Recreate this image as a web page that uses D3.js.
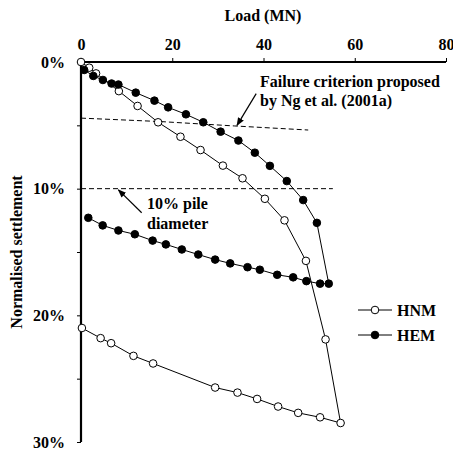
<!DOCTYPE html>
<html>
<head>
<meta charset="utf-8">
<script src="https://cdn.jsdelivr.net/npm/d3@7"></script>
<style>
  html, body { margin: 0; padding: 0; background: #fff; }
</style>
</head>
<body>
<svg id="chart" width="453" height="450"></svg>
<script>
// Load (MN) and normalised settlement (%) for each pile test
const hnmLoad = [0, 1.8, 3.3, 8.3, 12.4, 16.9, 21.8, 26.2, 31.1, 35.4, 40.3, 44.6, 49.3, 53.6, 56.9,
                 52.4, 47.6, 43.2, 38.6, 34.3, 29.4, 15.8, 11.5, 6.6, 4.3, 0.2];
const hnmSettle = [0, 0.45, 0.9, 2.3, 3.47, 4.76, 5.9, 6.95, 8.18, 9.18, 10.8, 12.5, 15.7, 21.9, 28.5,
                   28.05, 27.7, 27.2, 26.6, 26.1, 25.7, 23.8, 23.2, 22.2, 21.8, 21.0];
const hemLoad = [0.7, 2.7, 4.8, 6.7, 8.2, 12.0, 16.1, 19.1, 23.0, 26.8, 30.6, 34.5, 38.1, 41.4, 45.1, 48.7, 51.7, 54.3,
                 52.4, 49.4, 46.5, 43.0, 39.2, 36.5, 32.7, 29.4, 25.7, 22.1, 18.6, 15.7, 11.8, 8.2, 4.75, 1.6];
const hemSettle = [0.63, 1.1, 1.42, 1.7, 1.78, 2.42, 3.05, 3.58, 4.13, 4.76, 5.5, 6.2, 7.16, 8.2, 9.4, 10.9, 12.7, 17.5,
                   17.5, 17.3, 17.0, 16.8, 16.4, 16.2, 15.9, 15.6, 15.2, 14.8, 14.4, 14.1, 13.6, 13.3, 12.9, 12.3];

// Reference lines
const failureLoad = [0, 17.3, 33.7, 49.8];
const failureSettle = [4.43, 4.7, 5.05, 5.37];
const pileDiaLoad = [0, 55.2];
const pileDiaSettle = [10, 10];

const xTicks = [0, 20, 40, 60, 80];
const yTicks = [0, 10, 20, 30];
const yMinorTicks = [5, 15, 25];

const FONT = "Liberation Serif, DejaVu Serif";

const svg = d3.select("#chart");
const x = d3.scaleLinear().domain([0, 80]).range([81, 446]);
const y = d3.scaleLinear().domain([0, 30]).range([62, 442]);

function styleText(sel, size) {
  return sel.attr("font-family", FONT).style("font-family", FONT)
    .style("font-weight", "bold").style("font-size", size + "px").attr("fill", "#000");
}

// Top axis (load)
const xAxis = svg.append("g").attr("transform", `translate(0,${y(0)})`)
  .call(d3.axisTop(x).tickValues(xTicks).tickSize(4).tickPadding(8).tickFormat(d3.format("d")));
xAxis.select(".domain").attr("stroke-width", 2.2).attr("d", `M${x(0)},0H${x(80)}`);
xAxis.selectAll(".tick line").attr("stroke-width", 1);
styleText(xAxis.selectAll("text"), 16);

// Left axis (settlement)
const yAxis = svg.append("g").attr("transform", `translate(${x(0)},0)`)
  .call(d3.axisLeft(y).tickValues(yTicks).tickSize(4).tickPadding(12).tickFormat(d => d + "%"));
yAxis.select(".domain").attr("stroke-width", 2.2).attr("d", `M0,${y(0)}V${y(30)}`);
yAxis.selectAll(".tick line").attr("stroke-width", 1);
styleText(yAxis.selectAll("text"), 16);
svg.append("g").attr("transform", `translate(${x(0)},0)`)
  .call(d3.axisLeft(y).tickValues(yMinorTicks).tickSize(4).tickFormat(""))
  .call(g => g.select(".domain").remove());

// Axis titles
styleText(svg.append("text").attr("x", 263).attr("y", 21).attr("text-anchor", "middle"), 16)
  .text("Load (MN)");
styleText(svg.append("text").attr("transform", "translate(22,252) rotate(-90)").attr("text-anchor", "middle"), 16)
  .text("Normalised settlement");

const line = d3.line().x(d => x(d[0])).y(d => y(d[1]));
const zip = (a, b) => a.map((v, i) => [v, b[i]]);

// Dashed criteria lines
svg.append("path").datum(zip(failureLoad, failureSettle)).attr("d", line)
  .attr("fill", "none").attr("stroke", "#000").attr("stroke-width", 1).attr("stroke-dasharray", "5,3");
svg.append("path").datum(zip(pileDiaLoad, pileDiaSettle)).attr("d", line)
  .attr("fill", "none").attr("stroke", "#000").attr("stroke-width", 1).attr("stroke-dasharray", "5,3");

// Series
function drawSeries(loads, settles, fill) {
  const pts = zip(loads, settles);
  svg.append("path").datum(pts).attr("d", line)
    .attr("fill", "none").attr("stroke", "#000").attr("stroke-width", 1);
  svg.append("g").selectAll("circle").data(pts).join("circle")
    .attr("cx", d => x(d[0])).attr("cy", d => y(d[1])).attr("r", 3.8)
    .attr("fill", fill).attr("stroke", "#000").attr("stroke-width", 1);
}
drawSeries(hnmLoad, hnmSettle, "#fff");
drawSeries(hemLoad, hemSettle, "#000");

// Annotations with arrows
svg.append("defs").append("marker").attr("id", "arrow")
  .attr("viewBox", "0 0 10 10").attr("refX", 9).attr("refY", 5)
  .attr("markerWidth", 7).attr("markerHeight", 7).attr("orient", "auto")
  .append("path").attr("d", "M0,1L10,5L0,9Z").attr("fill", "#000");

function arrow(x1, y1, x2, y2) {
  svg.append("line").attr("x1", x(x1)).attr("y1", y(y1)).attr("x2", x(x2)).attr("y2", y(y2))
    .attr("stroke", "#000").attr("stroke-width", 1.2).attr("marker-end", "url(#arrow)");
}
arrow(38.4, 2.5, 34.2, 5.0);
arrow(13.3, 11.9, 8.2, 10.1);

const note1 = styleText(svg.append("text").attr("x", 260).attr("y", 87), 16);
note1.append("tspan").attr("x", 260).text("Failure criterion proposed");
note1.append("tspan").attr("x", 260).attr("dy", 19).text("by Ng et al. (2001a)");

const note2 = styleText(svg.append("text").attr("x", 147).attr("y", 209), 16);
note2.append("tspan").attr("x", 147).text("10% pile");
note2.append("tspan").attr("x", 147).attr("dy", 20).text("diameter");

// Legend
const legendItems = [{ name: "HNM", fill: "#fff", yPos: 310 }, { name: "HEM", fill: "#000", yPos: 335 }];
legendItems.forEach(item => {
  svg.append("line").attr("x1", 358).attr("x2", 392).attr("y1", item.yPos).attr("y2", item.yPos)
    .attr("stroke", "#000").attr("stroke-width", 1);
  svg.append("circle").attr("cx", 375).attr("cy", item.yPos).attr("r", 3.8)
    .attr("fill", item.fill).attr("stroke", "#000");
  styleText(svg.append("text").attr("x", 397).attr("y", item.yPos + 5.5), 16).text(item.name);
});
</script>
</body>
</html>
